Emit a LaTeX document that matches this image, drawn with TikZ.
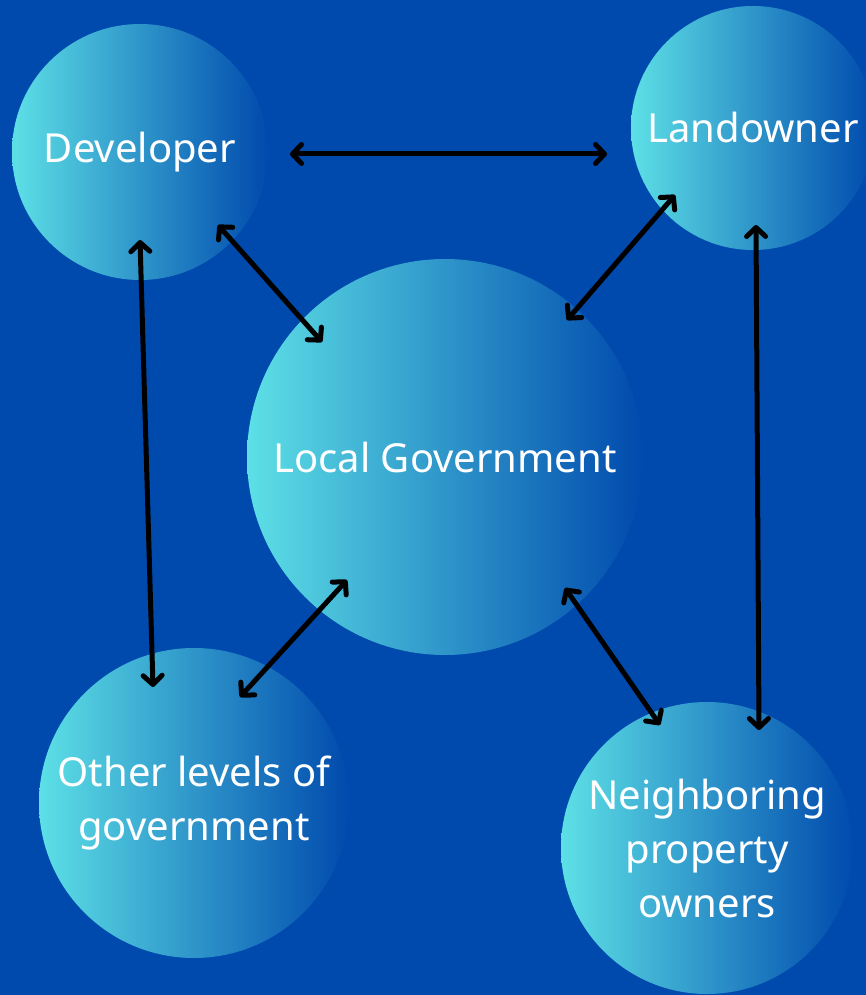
\documentclass[tikz,border=0pt]{standalone}
\usepackage{fontspec}
\setmainfont{Noto Sans}
\usetikzlibrary{arrows.meta}
\definecolor{bgblue}{HTML}{004AAD}
\definecolor{cyanlt}{HTML}{5DE0E6}
\begin{document}
\begin{tikzpicture}[x=1pt,y=-1pt,
  party/.style={circle, inner sep=0pt, left color=cyanlt, right color=bgblue,
    text=white, align=center, font=\fontsize{40}{54}\selectfont},
  barb/.tip={Straight Barb[length=9pt,width=19pt,line cap=round,line join=round]},
  link/.style={draw=black, line width=5pt, line cap=round, barb-barb}]
% page and background
\fill[bgblue] (0,0) rectangle (866,995);
\useasboundingbox (0,0) rectangle (866,995);
\clip (0,0) rectangle (866,995);

% parties
\node[party, minimum size=256pt] (dev)  at (140,152) {Developer};
\node[party, minimum size=244pt] (land) at (753,128) {Landowner};
\node[party, minimum size=396pt] (gov)  at (445,457) {Local Government};
\node[party, minimum size=310pt] (oth)  at (194,803) {Other levels of\\government};
\node[party, minimum size=292pt] (nbr)  at (707,848) {Neighboring\\property\\owners};

% two-way relations
\draw[link] ([shift={(150,2)}]dev.center)  -- ([shift={(-146,26)}]land.center);
\draw[link] ([shift={(78,73)}]dev.center)  -- ([shift={(-123,-115)}]gov.center);
\draw[link] ([shift={(-78,67)}]land.center) -- ([shift={(122,-137)}]gov.center);
\draw[link] ([shift={(0,88)}]dev.center)   -- ([shift={(-41,-116)}]oth.center);
\draw[link] ([shift={(3,97)}]land.center)  -- ([shift={(52,-118)}]nbr.center);
\draw[link] ([shift={(-98,123)}]gov.center) -- ([shift={(46,-106)}]oth.center);
\draw[link] ([shift={(120,131)}]gov.center) -- ([shift={(-47,-123)}]nbr.center);
\end{tikzpicture}
\end{document}
